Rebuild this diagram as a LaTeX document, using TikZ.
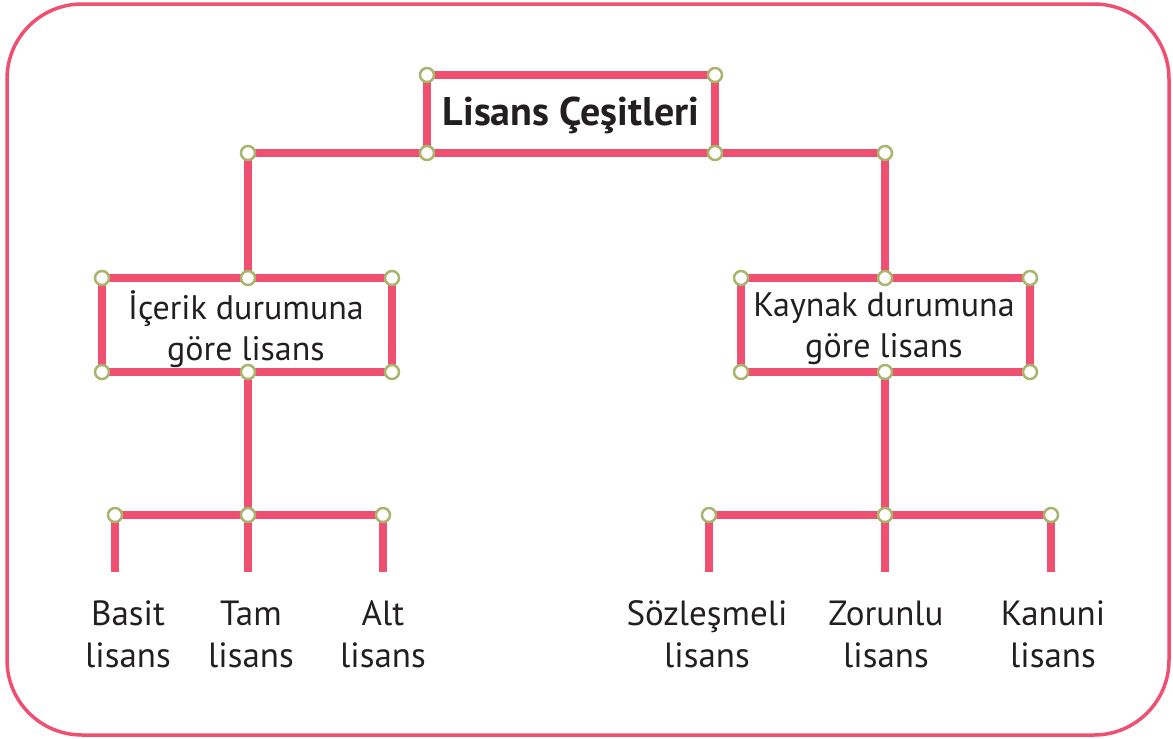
\documentclass[tikz,border=0pt]{standalone}
\usepackage{fontspec}
\setmainfont{PT Sans}
\definecolor{pinkline}{HTML}{EF5071}
\definecolor{olive}{HTML}{A9B46C}
\definecolor{txt}{HTML}{231F20}
\begin{document}
\begin{tikzpicture}[x=1pt,y=-1pt,
  bar/.style={draw=pinkline,line width=8pt},
  dot/.style={circle,draw=olive,fill=white,line width=2.5pt,minimum size=14pt,inner sep=0pt},
  lbl/.style={align=center,text=txt,font=\fontsize{35}{42}\selectfont,inner sep=0pt},
  boxlbl/.style={align=center,text=txt,font=\fontsize{34}{41}\selectfont,inner sep=0pt}]
\useasboundingbox (0,0) rectangle (1173,739);
\draw[pinkline,line width=3.5pt,rounded corners=75pt] (7,4) rectangle (1169,735);
% coordinates
\coordinate (t1) at (427,75); \coordinate (t2) at (715,75);
\coordinate (t3) at (427,153); \coordinate (t4) at (715,153);
\coordinate (hl) at (248,153); \coordinate (hr) at (885,153);
\coordinate (l1) at (102,278); \coordinate (lt) at (248,278); \coordinate (l2) at (392,278);
\coordinate (l3) at (102,372); \coordinate (lb) at (248,372); \coordinate (l4) at (392,372);
\coordinate (r1) at (741,278); \coordinate (rt) at (885,278); \coordinate (r2) at (1030,278);
\coordinate (r3) at (741,372); \coordinate (rb) at (885,372); \coordinate (r4) at (1030,372);
\coordinate (la) at (115,515); \coordinate (lm) at (248,515); \coordinate (lc) at (383,515);
\coordinate (ra) at (709,515); \coordinate (rm) at (885,515); \coordinate (rc) at (1051,515);
\coordinate (laE) at (115,572); \coordinate (lmE) at (248,572); \coordinate (lcE) at (383,572);
\coordinate (raE) at (709,572); \coordinate (rmE) at (885,572); \coordinate (rcE) at (1051,572);
% bars
\draw[bar] (t1) -- (t2) -- (t4) -- (t3) -- cycle;
\draw[bar] (hl) -- (hr);
\draw[bar] (hl) -- (lt); \draw[bar] (hr) -- (rt);
\draw[bar] (l1) -- (l2) -- (l4) -- (l3) -- cycle;
\draw[bar] (r1) -- (r2) -- (r4) -- (r3) -- cycle;
\draw[bar] (lb) -- (lm); \draw[bar] (rb) -- (rm);
\draw[bar] (la) -- (lc); \draw[bar] (ra) -- (rc);
\draw[bar] (la) -- (laE); \draw[bar] (lm) -- (lmE); \draw[bar] (lc) -- (lcE);
\draw[bar] (ra) -- (raE); \draw[bar] (rm) -- (rmE); \draw[bar] (rc) -- (rcE);
% dots
\foreach \p in {t1,t2,t3,t4,hl,hr,l1,lt,l2,l3,lb,l4,r1,rt,r2,r3,rb,r4,la,lm,lc,ra,rm,rc}
  \node[dot] (d\p) at (\p) {};
% texts
\node[text=txt,font=\bfseries\fontsize{40}{46}\selectfont,inner sep=0pt] (title) at (571,115) {Lisans Çeşitleri};
\node[boxlbl] (icerik) at (246,329) {İçerik durumuna\\göre lisans};
\node[boxlbl] (kaynak) at (884,329) {Kaynak durumuna\\göre lisans};
\node[lbl] (basit) at (128,634) {Basit\\lisans};
\node[lbl] (tam) at (251,634) {Tam\\lisans};
\node[lbl] (alt) at (383,634) {Alt\\lisans};
\node[lbl] (soz) at (707,634) {Sözleşmeli\\lisans};
\node[lbl] (zor) at (886,634) {Zorunlu\\lisans};
\node[lbl] (kan) at (1053,634) {Kanuni\\lisans};
\end{tikzpicture}
\end{document}
